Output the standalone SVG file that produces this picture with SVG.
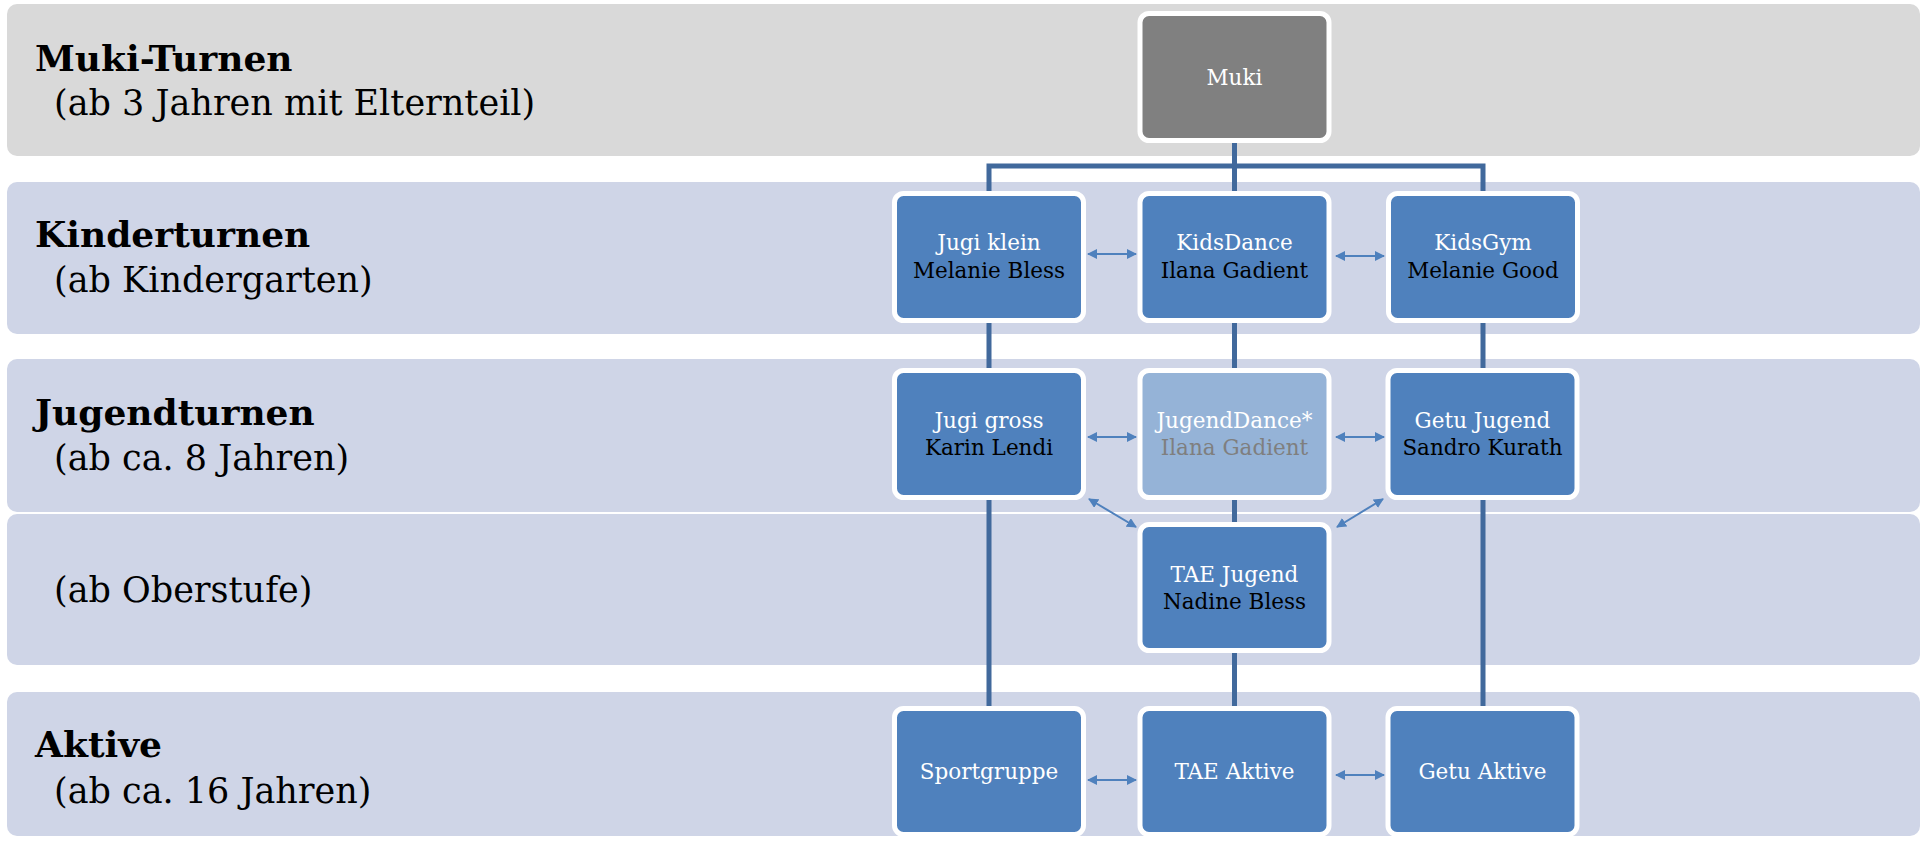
<svg xmlns="http://www.w3.org/2000/svg" width="1921" height="841" viewBox="0 0 1921 841">
<style>
.band{fill:#CFD5E7}
.bandgray{fill:#D9D9D9}
.h{font-family:"DejaVu Serif","Liberation Serif",serif;font-weight:bold;font-size:36px;fill:#000}
.s{font-family:"DejaVu Serif","Liberation Serif",serif;font-size:35px;fill:#000}
.node{fill:#4F81BD;stroke:#FFFFFF;stroke-width:5}
.muki{fill:#808080;stroke:#FFFFFF;stroke-width:5}
.light{fill:#95B3D7;stroke:#FFFFFF;stroke-width:5}
.t{font-family:"DejaVu Serif","Liberation Serif",serif;font-size:21.5px;text-anchor:middle}
.w{fill:#FFFFFF}
.k{fill:#000000}
.g{fill:#7F7F7F}
.tree{fill:none;stroke:#41699C;stroke-width:5;stroke-linecap:butt;stroke-linejoin:miter}
.arr{fill:none;stroke:#4F81BD;stroke-width:2;marker-start:url(#ah);marker-end:url(#ah)}
</style>
<defs>
<marker id="ah" markerUnits="userSpaceOnUse" markerWidth="10" markerHeight="10" refX="9" refY="5" orient="auto-start-reverse">
<path d="M0,0 L10,5 L0,10 z" fill="#4F81BD"/>
</marker>
</defs>
<g id="bands">
<rect class="bandgray" x="7" y="4" width="1913" height="152" rx="10"/>
<rect class="band" x="7" y="182" width="1913" height="152" rx="10"/>
<rect class="band" x="7" y="359" width="1913" height="153" rx="10"/>
<rect class="band" x="7" y="514" width="1913" height="151" rx="10"/>
<rect class="band" x="7" y="692" width="1913" height="144" rx="10"/>
<text class="h" x="35" y="71">Muki-Turnen</text>
<text class="s" x="54" y="115">(ab 3 Jahren mit Elternteil)</text>
<text class="h" x="35" y="247">Kinderturnen</text>
<text class="s" x="54" y="292">(ab Kindergarten)</text>
<text class="h" x="35" y="425">Jugendturnen</text>
<text class="s" x="54" y="470">(ab ca. 8 Jahren)</text>
<text class="s" x="54" y="602">(ab Oberstufe)</text>
<text class="h" x="35" y="757">Aktive</text>
<text class="s" x="54" y="803">(ab ca. 16 Jahren)</text>
</g>
<g id="connectors">
<path class="tree" d="M1234.5,141 V166 M986.5,166 H1485.5 M989,166 V192 M1234.5,166 V192 M1483,166 V192"/>
<path class="tree" d="M989,323 V369 M1234.5,323 V369 M1483,323 V369"/>
<path class="tree" d="M989,500 V707 M1234.5,500 V523 M1234.5,653 V707 M1483,500 V707"/>
<line class="arr" x1="1088" y1="254" x2="1136" y2="254"/>
<line class="arr" x1="1336" y1="256" x2="1384" y2="256"/>
<line class="arr" x1="1088" y1="437" x2="1136" y2="437"/>
<line class="arr" x1="1336" y1="437" x2="1384" y2="437"/>
<line class="arr" x1="1089" y1="499" x2="1136" y2="527"/>
<line class="arr" x1="1383" y1="499" x2="1337" y2="527"/>
<line class="arr" x1="1088" y1="780" x2="1136" y2="780"/>
<line class="arr" x1="1336" y1="775" x2="1384" y2="775"/>
</g>
<g id="node-muki">
<rect class="muki" x="1140" y="13.5" width="189" height="127" rx="9"/>
<text class="t w" x="1234.5" y="85">Muki</text>
</g>
<g id="node-jugi-klein">
<rect class="node" x="894.5" y="193.5" width="189" height="127" rx="9"/>
<text class="t w" x="989" y="250">Jugi klein</text>
<text class="t k" x="989" y="278">Melanie Bless</text>
</g>
<g id="node-kidsdance">
<rect class="node" x="1140" y="193.5" width="189" height="127" rx="9"/>
<text class="t w" x="1234.5" y="250">KidsDance</text>
<text class="t k" x="1234.5" y="278">Ilana Gadient</text>
</g>
<g id="node-kidsgym">
<rect class="node" x="1388.5" y="193.5" width="189" height="127" rx="9"/>
<text class="t w" x="1483" y="250">KidsGym</text>
<text class="t k" x="1483" y="278">Melanie Good</text>
</g>
<g id="node-jugi-gross">
<rect class="node" x="894.5" y="370.5" width="189" height="127" rx="9"/>
<text class="t w" x="989" y="428">Jugi gross</text>
<text class="t k" x="989" y="455">Karin Lendi</text>
</g>
<g id="node-jugenddance">
<rect class="light" x="1140" y="370.5" width="189" height="127" rx="9"/>
<text class="t w" x="1234.5" y="428">JugendDance*</text>
<text class="t g" x="1234.5" y="455">Ilana Gadient</text>
</g>
<g id="node-getu-jugend">
<rect class="node" x="1388" y="370.5" width="189" height="127" rx="9"/>
<text class="t w" x="1482.5" y="428">Getu Jugend</text>
<text class="t k" x="1482.5" y="455">Sandro Kurath</text>
</g>
<g id="node-tae-jugend">
<rect class="node" x="1140" y="524.5" width="189" height="126" rx="9"/>
<text class="t w" x="1234.5" y="582">TAE Jugend</text>
<text class="t k" x="1234.5" y="609">Nadine Bless</text>
</g>
<g id="node-sportgruppe">
<rect class="node" x="894.5" y="708.5" width="189" height="126" rx="9"/>
<text class="t w" x="989" y="779">Sportgruppe</text>
</g>
<g id="node-tae-aktive">
<rect class="node" x="1140" y="708.5" width="189" height="126" rx="9"/>
<text class="t w" x="1234.5" y="779">TAE Aktive</text>
</g>
<g id="node-getu-aktive">
<rect class="node" x="1388" y="708.5" width="189" height="126" rx="9"/>
<text class="t w" x="1482.5" y="779">Getu Aktive</text>
</g>
</svg>
